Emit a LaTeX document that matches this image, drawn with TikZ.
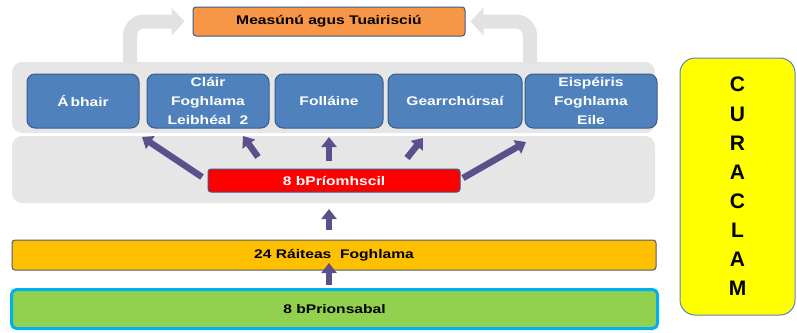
\documentclass[tikz,border=0pt]{standalone}
\usepackage{fontspec}
\setmainfont{Liberation Sans}[FakeStretch=1.25]
\newfontfamily\curfont{Liberation Sans}
\usetikzlibrary{arrows.meta}
\definecolor{panelgrey}{RGB}{230,230,230}
\definecolor{arrowgrey}{RGB}{226,226,226}
\definecolor{boxblue}{RGB}{79,129,189}
\definecolor{boxedge}{RGB}{56,93,138}
\definecolor{measorange}{RGB}{247,150,70}
\definecolor{ratyellow}{RGB}{255,192,0}
\definecolor{prgreen}{RGB}{146,208,80}
\definecolor{prcyan}{RGB}{0,176,240}
\definecolor{curyellow}{RGB}{255,255,0}
\definecolor{curedge}{RGB}{90,130,190}
\definecolor{darkarrow}{RGB}{91,80,140}
\definecolor{baredge}{RGB}{74,90,120}
\tikzset{
  txt/.style={font=\fontsize{12.5}{19}\selectfont\bfseries, align=center, inner sep=0pt},
  bluebox/.style={txt, draw=boxedge, line width=1pt, fill=boxblue, text=white, rounded corners=8pt, minimum height=54pt},
  bar/.style={txt, draw=baredge, line width=1pt, rounded corners=3pt},
  panel/.style={fill=panelgrey, rounded corners=10pt},
  greyarrow/.style={draw=arrowgrey, line width=14pt, rounded corners=14pt, -{Triangle[length=13pt,width=27pt]}},
  darkarr/.style={draw=darkarrow, line width=6.5pt, -{Triangle[length=10pt,width=15pt]}}
}
\begin{document}
\begin{tikzpicture}[x=1pt,y=-1pt]
\useasboundingbox (0,0) rectangle (797,332);
% panels
\fill[panel] (12,62) rectangle (655,133);
\fill[panel] (12,136) rectangle (655,203);
% grey arrows to assessment box
\node[bar, fill=measorange, draw=boxedge, minimum width=272pt, minimum height=29pt] (meas) at (329,21.5) {Measúnú agus Tuairisciú};
\coordinate (gl) at (130,64);
\coordinate (gr) at (530,64);
\draw[greyarrow, shorten >=8pt] (gl) |- (meas.west);
\draw[greyarrow, shorten >=5pt] (gr) |- (meas.east);
% blue boxes
\node[bluebox, minimum width=112pt] (abhair) at (83,101) {Á\kern2pt bhair};
\node[bluebox, minimum width=122pt] (clair) at (208,101) {Cláir\\Foghlama\\Leibhéal\ \ 2};
\node[bluebox, minimum width=108pt] (follaine) at (329,101) {Folláine};
\node[bluebox, minimum width=134pt] (gearr) at (455,101) {Gearrchúrsaí};
\node[bluebox, minimum width=132pt] (eisp) at (591,101) {Eispéiris\\Foghlama\\Eile};
% red box
\node[bar, fill=red, draw=boxedge, text=white, minimum width=252pt, minimum height=23pt] (prio) at (334,180.5) {8 bPríomhscil};
% yellow bar
\node[bar, fill=ratyellow, minimum width=644pt, minimum height=30pt] (rait) at (334,255) {24 Ráiteas\ \ Foghlama};
% green bar
\node[txt, fill=prgreen, draw=prcyan, line width=3pt, rounded corners=5pt, minimum width=646pt, minimum height=39pt] (prion) at (334.5,309) {8 bPrionsabal};
% curaclam
\node[draw=curedge, line width=1pt, fill=curyellow, rounded corners=15pt, minimum width=115pt, minimum height=257pt] (curbox) at (737.5,186.5) {};
\node[font=\curfont\fontsize{21}{29.1}\selectfont\bfseries, align=center, inner sep=0pt] (curtext) at (curbox.center) {C\\U\\R\\A\\C\\L\\A\\M};
% dark arrows
\coordinate (a1s) at (202,177); \coordinate (a1e) at (142,137);
\coordinate (a2s) at (258,157); \coordinate (a2e) at (243,136);
\coordinate (a4s) at (407,158); \coordinate (a4e) at (423,138);
\coordinate (a5s) at (463,178); \coordinate (a5e) at (526,142);
\draw[darkarr] (a1s) -- (a1e);
\draw[darkarr] (a2s) -- (a2e);
\draw[darkarr] (prio.north -| follaine.south) ++(0,-8) -- (329,137);
\draw[darkarr] (a4s) -- (a4e);
\draw[darkarr] (a5s) -- (a5e);
\draw[darkarr, shorten <=10pt, shorten >=1pt] (329,240) -- (329,208);
\draw[darkarr, shorten <=3pt] (329,288) -- (329,263);
\end{tikzpicture}
\end{document}
